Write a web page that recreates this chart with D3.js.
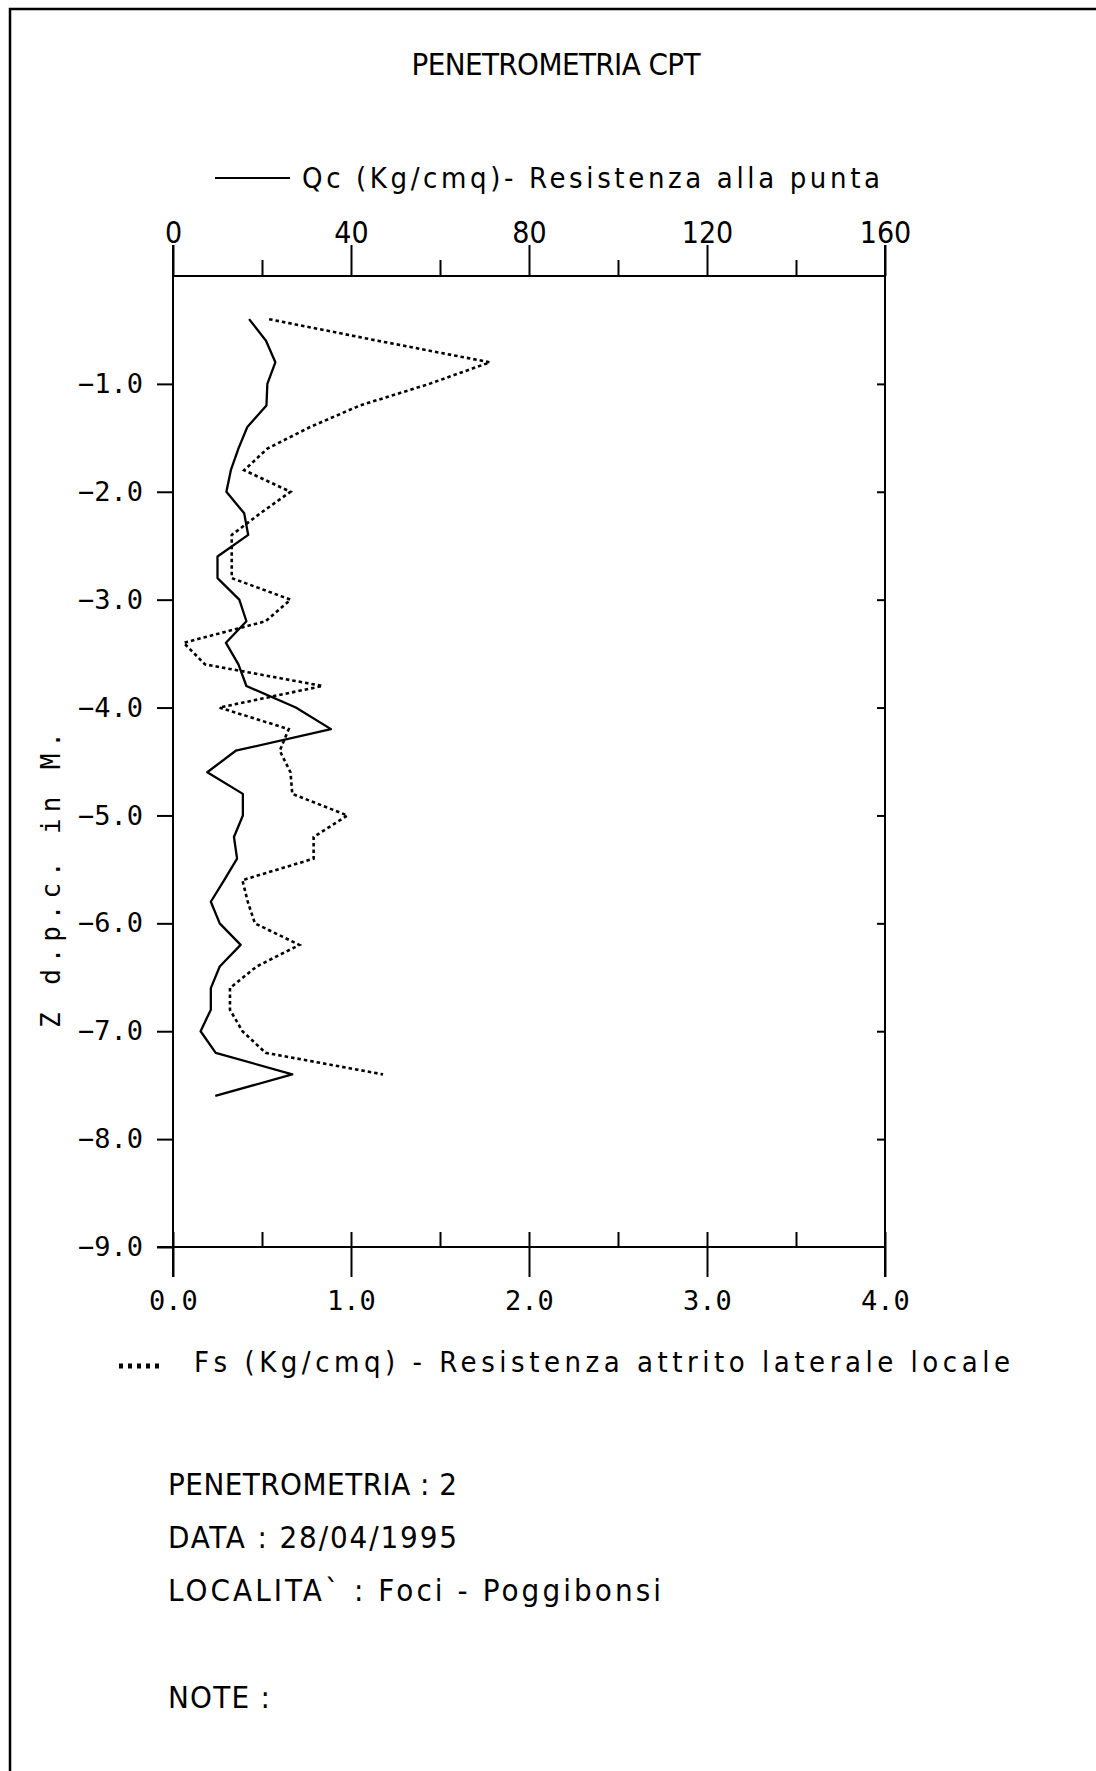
<!DOCTYPE html>
<html>
<head>
<meta charset="utf-8">
<script src="https://cdn.jsdelivr.net/npm/d3@7"></script>
<style>
  body { margin: 0; background: #fff; }
  svg { display: block; }
  .plotter { font-family: "Liberation Sans Narrow", "DejaVu Sans Condensed", "Liberation Sans", sans-serif; }
  .mono { font-family: "DejaVu Sans Mono", "Liberation Mono", monospace; }
</style>
</head>
<body>
<div id="cpt-chart"></div>
<script>
// Qc - resistenza alla punta (Kg/cmq), solid line, top scale
const depthQc = [-0.4, -0.6, -0.8, -1.0, -1.2, -1.4, -1.6, -1.8, -2.0, -2.2, -2.4, -2.6, -2.8, -3.0, -3.2, -3.4, -3.6, -3.8, -4.0,
  -4.2, -4.4, -4.6, -4.8, -5.0, -5.2, -5.4, -5.6, -5.8, -6.0, -6.2, -6.4, -6.6, -6.8, -7.0, -7.2, -7.4, -7.6];
const qcValues = [17.1, 20.9, 23.0, 21.2, 21.0, 16.7, 14.7, 13.0, 12.0, 16.0, 16.9, 10.0, 10.0, 14.9, 16.5, 11.9, 14.7, 16.5, 27.6,
  35.5, 14.1, 7.7, 15.7, 15.7, 13.7, 14.4, 11.5, 8.5, 10.5, 15.2, 10.5, 8.5, 8.5, 6.2, 9.6, 26.8, 9.5];

// Fs - resistenza attrito laterale locale (Kg/cmq), dotted line, bottom scale
const depthFs = [-0.4, -0.6, -0.8, -1.0, -1.2, -1.4, -1.6, -1.8, -2.0, -2.2, -2.4, -2.6, -2.8, -3.0, -3.2, -3.4, -3.6, -3.8, -4.0,
  -4.2, -4.4, -4.6, -4.8, -5.0, -5.2, -5.4, -5.6, -5.8, -6.0, -6.2, -6.4, -6.6, -6.8, -7.0, -7.2, -7.4];
const fsValues = [0.54, 1.15, 1.78, 1.44, 1.05, 0.77, 0.53, 0.40, 0.66, 0.49, 0.33, 0.33, 0.33, 0.66, 0.52, 0.06, 0.18, 0.84, 0.26,
  0.65, 0.60, 0.66, 0.67, 0.98, 0.79, 0.79, 0.39, 0.42, 0.46, 0.71, 0.47, 0.32, 0.32, 0.39, 0.52, 1.18];

const qcTicks = [0, 40, 80, 120, 160];
const qcMinorTicks = [20, 60, 100, 140];
const fsTicks = [0, 1, 2, 3, 4];
const fsMinorTicks = [0.5, 1.5, 2.5, 3.5];
const depthTicks = [-1, -2, -3, -4, -5, -6, -7, -8, -9];

const titleText = "PENETROMETRIA CPT";
const qcLegend = "Qc (Kg/cmq)- Resistenza alla punta";
const fsLegend = "Fs (Kg/cmq) - Resistenza attrito laterale locale";
const yTitle = "Z d.p.c. in M.";
const infoLines = ["PENETROMETRIA : 2", "DATA : 28/04/1995", "LOCALITA` : Foci - Poggibonsi"];
const noteText = "NOTE :";

const W = 1096, H = 1771;
const plot = { left: 173, right: 885, top: 276, bottom: 1247 };
const pitch = 17; // plotter character pitch

const svg = d3.select("#cpt-chart").append("svg")
  .attr("width", W).attr("height", H);

svg.append("rect").attr("width", W).attr("height", H).attr("fill", "#fff");

// sheet frame (top and left edges)
svg.append("path")
  .attr("d", `M10,${H} L10,9 L${W},9`)
  .attr("fill", "none").attr("stroke", "#000").attr("stroke-width", 2.5);

const xQc = d3.scaleLinear().domain([0, 160]).range([plot.left, plot.right]);
const xFs = d3.scaleLinear().domain([0, 4]).range([plot.left, plot.right]);
const y = d3.scaleLinear().domain([0, -9]).range([plot.top, plot.bottom]);

function styleAxis(g) {
  g.select(".domain").remove();
  g.selectAll(".tick line").attr("stroke", "#000").attr("stroke-width", 2);
}

// top axis (Qc)
svg.append("g")
  .attr("transform", `translate(0,${y(0)})`)
  .call(d3.axisTop(xQc).tickValues(qcTicks).tickSize(31).tickPadding(2).tickFormat(d3.format("d")))
  .call(styleAxis)
  .call(g => g.selectAll("text").attr("class", "plotter").attr("font-size", 30).attr("fill", "#000"));
svg.append("g")
  .attr("transform", `translate(0,${y(0)})`)
  .call(d3.axisTop(xQc).tickValues(qcMinorTicks).tickSize(16).tickFormat(""))
  .call(styleAxis);

// bottom axis (Fs): major ticks cross the line, minor ticks above only
svg.append("g")
  .attr("transform", `translate(0,${y(-9)})`)
  .call(d3.axisBottom(xFs).tickValues(fsTicks).tickSize(30).tickPadding(14).tickFormat(d => d.toFixed(1)))
  .call(styleAxis)
  .call(g => g.selectAll("text").attr("class", "mono").attr("font-size", 27).attr("fill", "#000"));
svg.append("g")
  .attr("transform", `translate(0,${y(-9)})`)
  .call(d3.axisTop(xFs).tickValues(fsMinorTicks.concat(fsTicks)).tickSize(15).tickFormat(""))
  .call(styleAxis);

// left axis (depth)
svg.append("g")
  .attr("transform", `translate(${plot.left},0)`)
  .call(d3.axisLeft(y).tickValues(depthTicks).tickSize(16).tickPadding(14).tickFormat(d3.format(".1f")))
  .call(styleAxis)
  .call(g => g.selectAll("text").attr("class", "mono").attr("font-size", 27).attr("fill", "#000"));

// right axis: small inward ticks
svg.append("g")
  .attr("transform", `translate(${plot.right},0)`)
  .call(d3.axisLeft(y).tickValues(depthTicks.slice(0, -1)).tickSize(8).tickFormat(""))
  .call(styleAxis);

// frame of the plot
const frame = svg.append("g").attr("stroke", "#000").attr("stroke-width", 2);
frame.append("line").attr("x1", xQc(0)).attr("x2", xQc(0)).attr("y1", y(0) - 31).attr("y2", y(-9) + 30);
frame.append("line").attr("x1", xQc(160)).attr("x2", xQc(160)).attr("y1", y(0) - 31).attr("y2", y(-9) + 30);
frame.append("line").attr("x1", xQc(0)).attr("x2", xQc(160)).attr("y1", y(0)).attr("y2", y(0));
frame.append("line").attr("x1", xQc(0) - 16).attr("x2", xQc(160)).attr("y1", y(-9)).attr("y2", y(-9));

// series
const qcData = depthQc.map((z, i) => ({ z, v: qcValues[i] }));
const fsData = depthFs.map((z, i) => ({ z, v: fsValues[i] }));

svg.append("path")
  .datum(qcData)
  .attr("fill", "none").attr("stroke", "#000").attr("stroke-width", 2.3)
  .attr("stroke-linejoin", "round")
  .attr("d", d3.line().x(d => xQc(d.v)).y(d => y(d.z)));

svg.append("path")
  .datum(fsData)
  .attr("fill", "none").attr("stroke", "#000").attr("stroke-width", 2.6)
  .attr("stroke-dasharray", "3.5 3")
  .attr("d", d3.line().x(d => xFs(d.v)).y(d => y(d.z)));

// texts
function plotText(str, x, yy, size, anchor) {
  return svg.append("text")
    .attr("class", "plotter")
    .attr("x", x).attr("y", yy)
    .attr("font-size", size)
    .attr("text-anchor", anchor || "start")
    .attr("textLength", pitch * str.length)
    .attr("lengthAdjust", "spacing")
    .attr("fill", "#000")
    .text(str);
}

plotText(titleText, 556, 75, 31, "middle");

// top legend (Qc)
svg.append("line").attr("x1", 215).attr("x2", 290).attr("y1", 178).attr("y2", 178)
  .attr("stroke", "#000").attr("stroke-width", 2);
plotText(qcLegend, 302, 188, 29);

// bottom legend (Fs)
svg.append("line").attr("x1", 119).attr("x2", 162).attr("y1", 1366).attr("y2", 1366)
  .attr("stroke", "#000").attr("stroke-width", 5).attr("stroke-dasharray", "4 5");
plotText(fsLegend, 194, 1372, 29);

// y title
svg.append("text")
  .attr("class", "mono")
  .attr("transform", "translate(51,880) rotate(-90)")
  .attr("text-anchor", "middle")
  .attr("dominant-baseline", "central")
  .attr("font-size", 26)
  .attr("textLength", 296)
  .attr("lengthAdjust", "spacing")
  .attr("fill", "#000")
  .text(yTitle);

// info block
const infoY = [1495, 1548, 1601];
infoLines.forEach((s, i) => plotText(s, 168, infoY[i], 31));
plotText(noteText, 168, 1708, 31);
</script>
</body>
</html>
